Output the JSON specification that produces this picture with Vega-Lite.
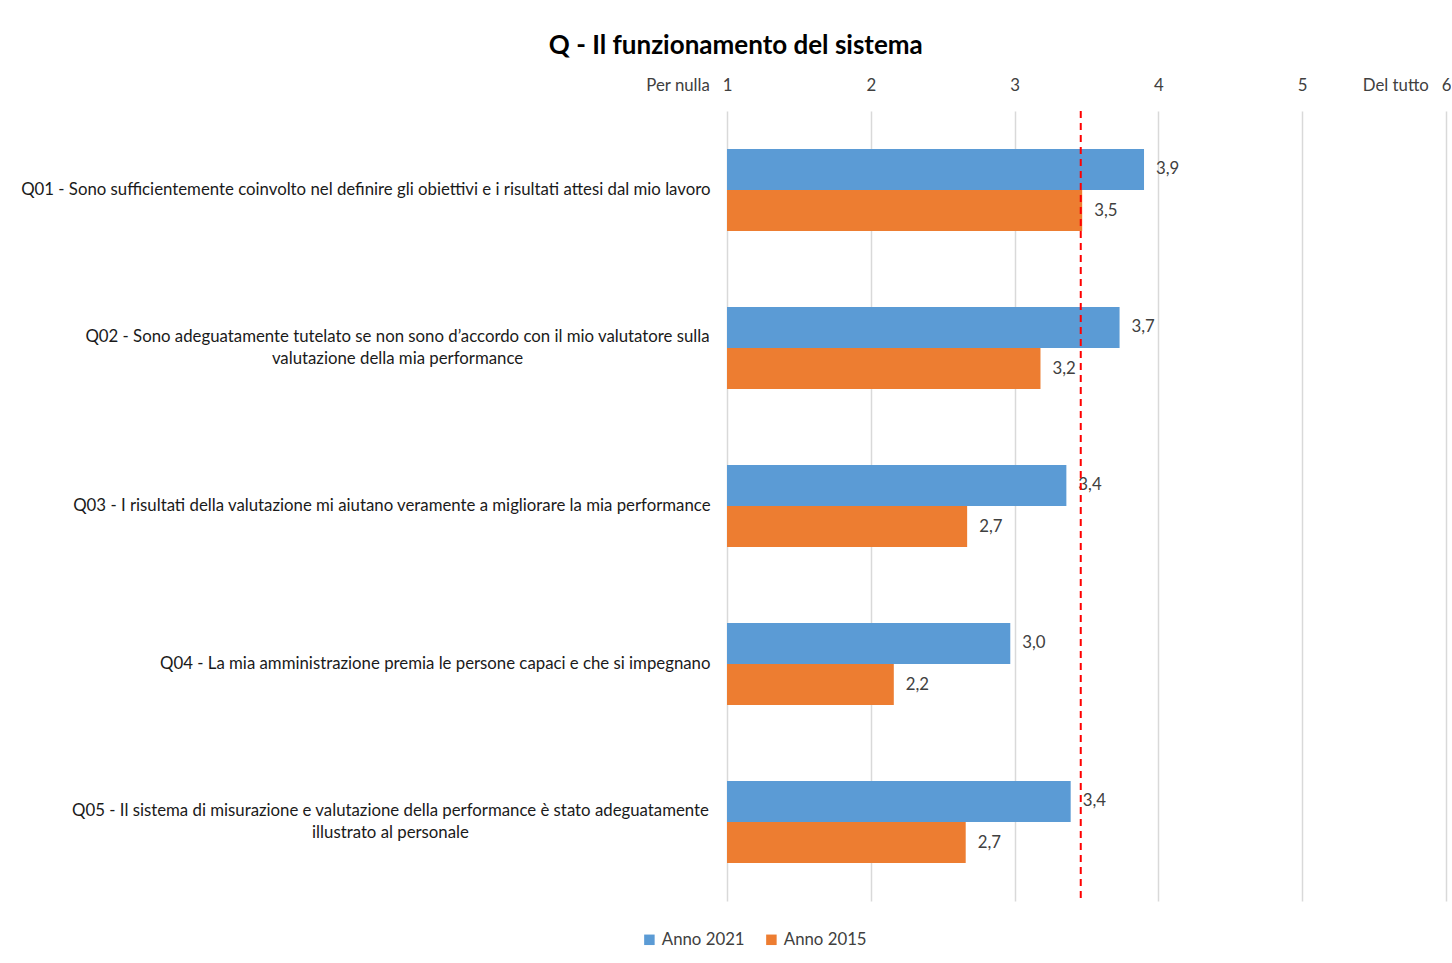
{
  "$schema": "https://vega.github.io/schema/vega-lite/v6.json",
  "width": 719,
  "height": 790,
  "padding": {"left": 20, "top": 33, "right": 0, "bottom": 5},
  "background": "white",
  "title": {"text": "Q - Il funzionamento del sistema", "fontSize": 26, "font": "Lato", "fontWeight": "bold", "color": "#000000", "anchor": "middle", "frame": "bounds", "offset": 18},
  "data": {"values": [
    {"domanda": "Q01 - Sono sufficientemente coinvolto nel definire gli obiettivi e i risultati attesi dal mio lavoro", "anno": "Anno 2021", "valore": 3.9},
    {"domanda": "Q01 - Sono sufficientemente coinvolto nel definire gli obiettivi e i risultati attesi dal mio lavoro", "anno": "Anno 2015", "valore": 3.47},
    {"domanda": "Q02 - Sono adeguatamente tutelato se non sono d’accordo con il mio valutatore sulla|valutazione della mia performance", "anno": "Anno 2021", "valore": 3.73},
    {"domanda": "Q02 - Sono adeguatamente tutelato se non sono d’accordo con il mio valutatore sulla|valutazione della mia performance", "anno": "Anno 2015", "valore": 3.18},
    {"domanda": "Q03 - I risultati della valutazione mi aiutano veramente a migliorare la mia performance", "anno": "Anno 2021", "valore": 3.36},
    {"domanda": "Q03 - I risultati della valutazione mi aiutano veramente a migliorare la mia performance", "anno": "Anno 2015", "valore": 2.67},
    {"domanda": "Q04 - La mia amministrazione premia le persone capaci e che si impegnano", "anno": "Anno 2021", "valore": 2.97},
    {"domanda": "Q04 - La mia amministrazione premia le persone capaci e che si impegnano", "anno": "Anno 2015", "valore": 2.16},
    {"domanda": "Q05 - Il sistema di misurazione e valutazione della performance è stato adeguatamente|illustrato al personale", "anno": "Anno 2021", "valore": 3.39},
    {"domanda": "Q05 - Il sistema di misurazione e valutazione della performance è stato adeguatamente|illustrato al personale", "anno": "Anno 2015", "valore": 2.66}
  ]},
  "layer": [
    {
      "mark": {"type": "bar"},
      "encoding": {
        "y": {"field": "domanda", "type": "nominal", "sort": null, "title": null,
          "scale": {"paddingInner": 0.48, "paddingOuter": 0.24},
          "axis": {"labelExpr": "split(datum.label, '|')", "labelLimit": 900, "labelLineHeight": 22, "labelFontSize": 16.8, "labelColor": "#1a1a1a", "domain": false, "ticks": false,
            "labelAlign": {"condition": {"test": "indexof(datum.value, '|') >= 0", "value": "center"}, "value": "right"},
            "labelOffset": {"condition": {"test": "indexof(datum.value, '|') >= 0", "value": -11}, "value": 0},
            "labelPadding": {"condition": [{"test": "indexof(datum.value, 'Q02') == 0", "value": 330}, {"test": "indexof(datum.value, 'Q05') == 0", "value": 337}], "value": 17}}},
        "yOffset": {"field": "anno", "type": "nominal", "sort": ["Anno 2021", "Anno 2015"]},
        "x": {"field": "valore", "type": "quantitative", "title": null,
          "scale": {"domain": [1, 6], "zero": false, "nice": false},
          "axis": {"orient": "top", "values": [1, 2, 3, 4, 5, 6], "format": "d", "grid": true, "gridColor": "#d9d9d9", "gridWidth": 1.5, "domain": false, "ticks": false, "labelFlush": false, "labelPadding": 17, "labelFontSize": 16.8, "labelColor": "#404040",
            "labelExpr": "datum.value == 1 ? 'Per nulla\u00a0\u00a0\u00a01' : datum.value == 6 ? 'Del tutto\u00a0\u00a0\u00a06' : datum.label",
            "labelAlign": {"condition": {"test": "datum.value == 1 || datum.value == 6", "value": "right"}, "value": "center"},
            "labelOffset": {"condition": {"test": "datum.value == 1 || datum.value == 6", "value": 5}, "value": 0}}},
        "x2": {"datum": 1},
        "color": {"field": "anno", "type": "nominal", "sort": ["Anno 2021", "Anno 2015"],
          "scale": {"domain": ["Anno 2021", "Anno 2015"], "range": ["#5b9bd5", "#ed7d31"]},
          "legend": {"title": null, "orient": "none", "legendX": -86, "legendY": 820, "direction": "horizontal", "symbolType": "square", "symbolSize": 110, "labelFontSize": 16.8, "labelColor": "#404040", "columnPadding": 18}}
      }
    },
    {
      "mark": {"type": "text", "align": "left", "baseline": "middle", "dx": 12, "fontSize": 16.8, "font": "Lato", "color": "#404040"},
      "encoding": {
        "y": {"field": "domanda", "type": "nominal", "sort": null},
        "yOffset": {"field": "anno", "type": "nominal", "sort": ["Anno 2021", "Anno 2015"]},
        "x": {"field": "valore", "type": "quantitative"},
        "text": {"field": "valore", "type": "quantitative", "format": ".1f"}
      }
    },
    {
      "data": {"values": [{"soglia": 3.46}]},
      "mark": {"type": "rule", "color": "#ff0000", "strokeDash": [7, 5], "strokeWidth": 2},
      "encoding": {"x": {"field": "soglia", "type": "quantitative"}}
    }
  ],
  "config": {
    "font": "Lato",
    "view": {"stroke": null},
    "axis": {"labelFont": "Lato"},
    "legend": {"labelFont": "Lato"},
    "locale": {"number": {"decimal": ",", "thousands": ".", "grouping": [3], "currency": ["", " €"]}}
  }
}
